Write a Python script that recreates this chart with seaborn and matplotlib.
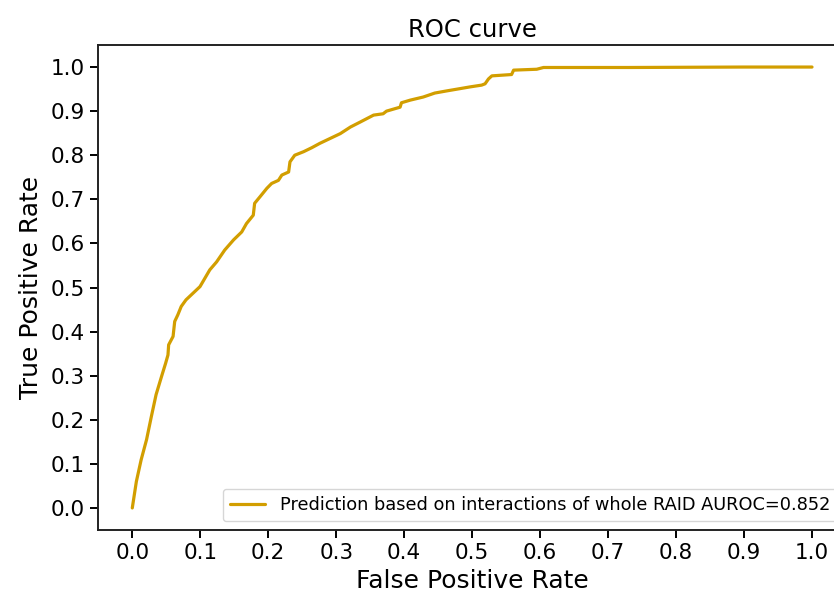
import matplotlib
matplotlib.use("Agg")
import matplotlib.pyplot as plt
import seaborn as sns
import pandas as pd

fpr = [0.0, 0.006, 0.013, 0.021, 0.028, 0.035, 0.043, 0.049, 0.0525, 0.0535, 0.060,
       0.0624, 0.067, 0.072, 0.079, 0.0996, 0.114, 0.124, 0.136, 0.149, 0.161, 0.168,
       0.178, 0.180, 0.188, 0.198, 0.205, 0.215, 0.220, 0.230, 0.232, 0.239, 0.252,
       0.264, 0.276, 0.291, 0.306, 0.321, 0.335, 0.355, 0.369, 0.374, 0.394, 0.396,
       0.409, 0.428, 0.445, 0.463, 0.482, 0.497, 0.514, 0.519, 0.524, 0.529, 0.558,
       0.561, 0.595, 0.605, 0.732, 0.9, 1.0]
tpr = [0.0, 0.060, 0.109, 0.155, 0.207, 0.257, 0.298, 0.328, 0.347, 0.370, 0.389,
       0.423, 0.438, 0.457, 0.472, 0.502, 0.540, 0.558, 0.585, 0.608, 0.626, 0.645,
       0.664, 0.691, 0.706, 0.725, 0.736, 0.743, 0.755, 0.762, 0.785, 0.800, 0.808,
       0.817, 0.827, 0.838, 0.849, 0.864, 0.875, 0.891, 0.894, 0.900, 0.909, 0.919,
       0.925, 0.932, 0.941, 0.946, 0.951, 0.955, 0.959, 0.962, 0.973, 0.980, 0.983,
       0.993, 0.995, 0.999, 0.999, 1.0, 1.0]
label = "Prediction based on interactions of whole RAID AUROC=0.852"
ticks = [0.0, 0.1, 0.2, 0.3, 0.4, 0.5, 0.6, 0.7, 0.8, 0.9, 1.0]

df = pd.DataFrame({"fpr": fpr, "tpr": tpr, "model": label})

sns.set_style("ticks")
plt.rcParams["font.family"] = ["DejaVu Sans"]
plt.rcParams["text.color"] = "black"
plt.rcParams["axes.labelcolor"] = "black"

fig = plt.figure(figsize=(8.34, 5.97), dpi=100)
ax = fig.add_axes([98.3 / 834, (597 - 530) / 597, (846 - 98.3) / 834, (530 - 45) / 597])

sns.lineplot(data=df, x="fpr", y="tpr", hue="model", palette=["#D29E00"],
             sort=False, estimator=None, linewidth=2.3, ax=ax)

ax.set_xlim(-0.05, 1.05)
ax.set_ylim(-0.05, 1.05)
ax.set_xticks(ticks)
ax.set_yticks(ticks)
ax.set_xticklabels([f"{t:.1f}" for t in ticks])
ax.set_yticklabels([f"{t:.1f}" for t in ticks])
ax.tick_params(labelsize=15.5, length=5.5, width=1.4, colors="black", pad=4)
for s in ax.spines.values():
    s.set_linewidth(1.4)
    s.set_color("#222222")
ax.set_xlabel("False Positive Rate", fontsize=18, color="black")
ax.set_ylabel("True Positive Rate", fontsize=18, color="black", labelpad=6)
ax.set_title("ROC curve", fontsize=17.5, color="black")
leg = ax.legend(loc="lower right", fontsize=12.8, frameon=True, fancybox=True,
                framealpha=0.8, edgecolor="#cccccc")
for t in leg.get_texts():
    t.set_color("black")

fig.savefig("out.png", dpi=100)
